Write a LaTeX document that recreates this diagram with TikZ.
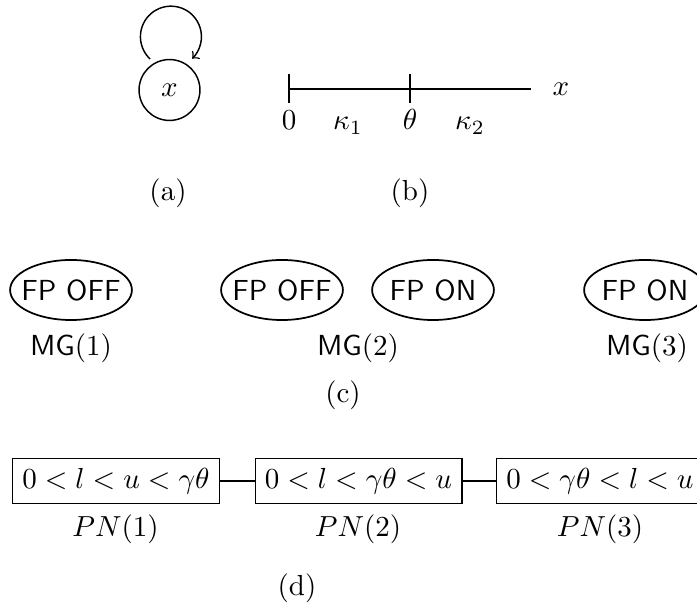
\documentclass[tikz,border=0pt]{standalone}
\usetikzlibrary{calc}
\begin{document}
\begin{tikzpicture}[x=0.3448pt, y=-0.3448pt,
  statenode/.style={draw, circle, minimum size=21pt, inner sep=0pt, line width=0.5pt},
  looparrow/.style={->, line width=0.5pt},
  axisline/.style={line width=0.8pt},
  tickline/.style={line width=0.5pt},
  lbl/.style={anchor=base, inner sep=0pt},
  fptext/.style={inner sep=0pt, font=\sffamily},
  fpell/.style={line width=0.6pt},
  pbox/.style={draw, line width=0.45pt, inner sep=3.33pt},
  pconn/.style={line width=0.8pt}]
\useasboundingbox (0,0) rectangle (697,607);

% (a)
\node[statenode] (x) at (169.5,90) {$x$};
\draw[looparrow] ($(x.center)+(122:12.6pt)$) arc[start angle=227, end angle=-46, radius=10.52pt];
\node[lbl] (la) at (168,201) {(a)};

% (b)
\coordinate (o) at (289,89);
\coordinate (t) at (410,89);
\coordinate (e) at (531,89);
\draw[axisline] (o) -- (e);
\draw[tickline] ($(o)+(0,-15)$) -- ($(o)+(0,14)$);
\draw[tickline] ($(t)+(0,-15)$) -- ($(t)+(0,14)$);
\node[lbl] (l0) at (289,130) {$0$};
\node[lbl] (lk1) at (348,130) {$\kappa_1$};
\node[lbl] (lth) at (410,130) {$\theta$};
\node[lbl] (lk2) at (470,130) {$\kappa_2$};
\node[lbl] (lx) at (561,96) {$x$};
\node[lbl] (lb) at (410,201) {(b)};

% (c)
\node[fptext] (e1) at (71,290) {FP OFF};
\node[fptext] (e2) at (282,290) {FP OFF};
\node[fptext] (e3) at (433,290) {FP ON};
\node[fptext] (e4) at (645,290) {FP ON};
\foreach \n in {e1,e2,e3,e4}
  \draw[fpell] (\n.center) ellipse [x radius=21.0pt, y radius=10.35pt];
\node[lbl] (mg1) at (71,356) {$\mathsf{MG}(1)$};
\node[lbl] (mg2) at (358,356) {$\mathsf{MG}(2)$};
\node[lbl] (mg3) at (647,356) {$\mathsf{MG}(3)$};
\node[lbl] (lc) at (343,403) {(c)};

% (d)
\node[pbox] (b1) at (116,481) {$0<l<u<\gamma\theta$};
\node[pbox] (b2) at (358.5,481) {$0<l<\gamma\theta<u$};
\node[pbox] (b3) at (600,481) {$0<\gamma\theta<l<u$};
\draw[pconn] (b1) -- (b2);
\draw[pconn] (b2) -- (b3);
\node[lbl] (pn1) at (115.5,537) {$PN(1)$};
\node[lbl] (pn2) at (358,537) {$PN(2)$};
\node[lbl] (pn3) at (600,537) {$PN(3)$};
\node[lbl] (ld) at (297,596) {(d)};
\end{tikzpicture}
\end{document}
